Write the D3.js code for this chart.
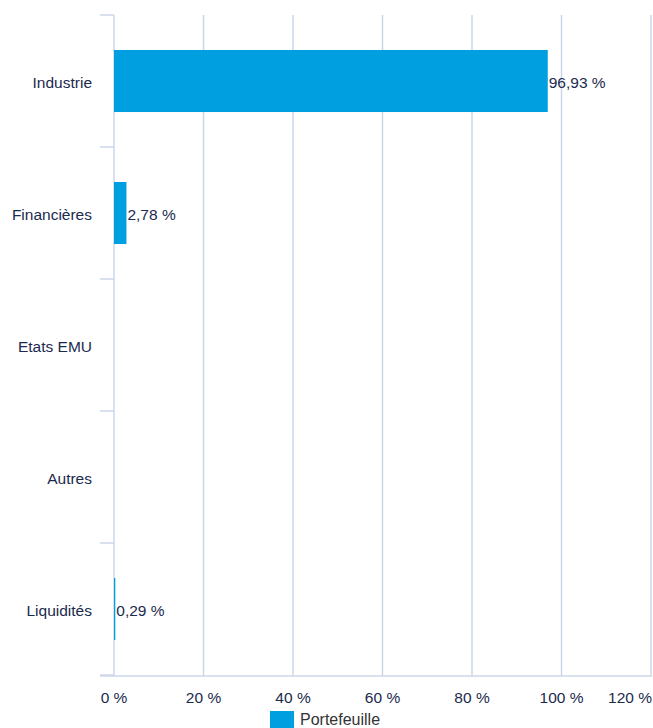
<!DOCTYPE html>
<html><head><meta charset="utf-8">
<script src="https://cdn.jsdelivr.net/npm/d3@7"></script>
<style>body{margin:0;background:#fff}svg{display:block}text{font-family:"Liberation Sans",Arial,Helvetica,sans-serif}</style>
</head><body>
<script>
const categories = ["Industrie","Financières","Etats EMU","Autres","Liquidités"];
const values = [96.93, 2.78, 0, 0, 0.29];
const labels = ["96,93 %","2,78 %","","","0,29 %"];
const xTicks = [0,20,40,60,80,100,120];
const seriesName = "Portefeuille";

const W=653,H=728;
const m={left:114,right:2,top:15,bottom:52};
const svg=d3.select("body").append("svg").attr("width",W).attr("height",H);
const x=d3.scaleLinear().domain([0,120]).range([m.left,651]);
const y=d3.scaleBand().domain(categories).range([m.top,675]).paddingInner(0.53).paddingOuter(0.265);
const grid="#ccd6e8", txt="#1b2a4e", bar="#009fe0";
const fs=15.5;

// vertical gridlines
svg.append("g").selectAll("line").data(xTicks).join("line")
 .attr("x1",d=>x(d)).attr("x2",d=>x(d)).attr("y1",m.top).attr("y2",676)
 .attr("stroke",grid).attr("stroke-width",1.5);

// y-axis ticks (band boundaries)
const bounds=categories.map(c=>y(c)-y.step()*y.paddingInner()/2);
bounds.push(675);
svg.append("g").selectAll("line").data([m.top].concat(bounds.slice(1))).join("line")
 .attr("x1",100).attr("x2",x(0)).attr("y1",d=>d).attr("y2",d=>d)
 .attr("stroke",grid).attr("stroke-width",1.5);
// bottom axis line
svg.append("line").attr("x1",100).attr("x2",652).attr("y1",676).attr("y2",676).attr("stroke",grid).attr("stroke-width",1.5);

// bars
svg.append("g").selectAll("rect").data(values).join("rect")
 .attr("x",x(0)).attr("y",(d,i)=>y(categories[i]))
 .attr("width",d=>x(d)-x(0)).attr("height",y.bandwidth()).attr("fill",bar);

// value labels
svg.append("g").selectAll("text").data(values).join("text")
 .attr("x",d=>x(d)+1).attr("y",(d,i)=>y(categories[i])+y.bandwidth()/2)
 .attr("dy","0.48em").attr("font-size",fs).attr("fill",txt).text((d,i)=>labels[i]);

// category labels
svg.append("g").selectAll("text").data(categories).join("text")
 .attr("x",92).attr("y",d=>y(d)+y.bandwidth()/2).attr("dy","0.48em")
 .attr("text-anchor","end").attr("font-size",fs).attr("fill",txt).text(d=>d);

// x tick labels
svg.append("g").selectAll("text").data(xTicks).join("text")
 .attr("x",(d,i)=>i===xTicks.length-1?652:x(d)).attr("y",703)
 .attr("text-anchor",(d,i)=>i===xTicks.length-1?"end":"middle")
 .attr("font-size",fs).attr("fill",txt).text(d=>d+" %");

// legend
svg.append("rect").attr("x",270).attr("y",711).attr("width",24).attr("height",17).attr("fill",bar);
svg.append("text").attr("x",300).attr("y",725).attr("font-size",16).attr("fill","#333").text(seriesName);
</script>
</body></html>
